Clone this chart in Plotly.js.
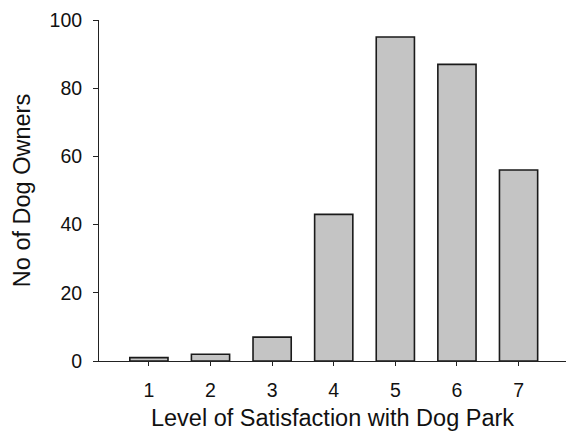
<!DOCTYPE html>
<html>
<head>
<meta charset="utf-8">
<script src="https://cdn.plot.ly/plotly-3.0.1.min.js"></script>
<style>html,body{margin:0;padding:0;background:#fff;}#chart{width:566px;height:437px;}</style>
</head>
<body>
<div id="chart"></div>
<script>
const categories = [1, 2, 3, 4, 5, 6, 7];
const owners = [1, 2, 7, 43, 95, 87, 56];
const yTicks = [0, 20, 40, 60, 80, 100];

const trace = {
  type: 'bar',
  x: categories,
  y: owners,
  width: 0.62,
  marker: {color: '#c4c4c4', line: {color: '#1a1a1a', width: 1.6}},
  hoverinfo: 'x+y'
};

const layout = {
  width: 566, height: 437,
  margin: {l: 99, r: 0, t: 20, b: 76},
  paper_bgcolor: '#fff', plot_bgcolor: '#fff',
  font: {family: 'Liberation Sans, Arial, sans-serif', color: '#111', size: 18},
  showlegend: false,
  xaxis: {
    range: [0.19, 7.77],
    tickvals: categories,
    ticktext: categories.map(String),
    ticks: 'outside', ticklen: 4, tickcolor: '#222',
    showline: true, linecolor: '#222', linewidth: 1,
    showgrid: false, zeroline: false,
    tickfont: {size: 19.5},
    ticklabelstandoff: 8,
    title: {text: 'Level of Satisfaction with Dog Park', font: {size: 23.5}, standoff: 9}
  },
  yaxis: {
    range: [0, 100],
    tickvals: yTicks,
    ticks: 'outside', ticklen: 5, tickcolor: '#222',
    showline: true, linecolor: '#222', linewidth: 1,
    showgrid: false, zeroline: false,
    tickfont: {size: 19.5},
    ticklabelstandoff: 7,
    title: {text: 'No of Dog Owners', font: {size: 23.5}, standoff: 12}
  }
};

Plotly.newPlot('chart', [trace], layout, {displayModeBar: false, staticPlot: true});
</script>
</body>
</html>
